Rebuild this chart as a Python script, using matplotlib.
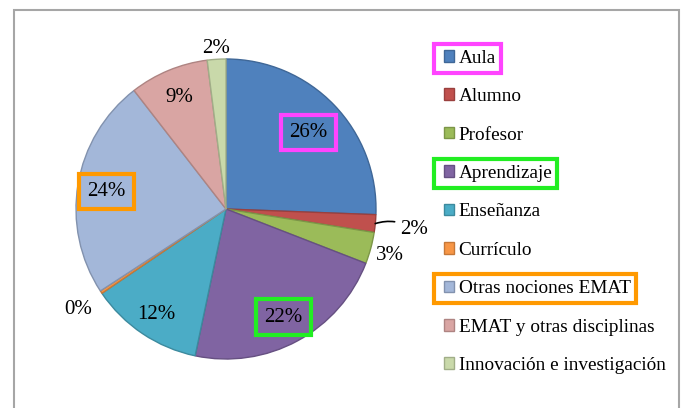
#!/usr/bin/env python3

import matplotlib.pyplot as plt
from matplotlib.patches import Rectangle
from matplotlib.colors import to_rgb
import numpy as np

plt.rcParams['font.family'] = ['Liberation Serif', 'DejaVu Serif']

categories = ['Aula', 'Alumno', 'Profesor', 'Aprendizaje', 'Enseñanza',
              'Currículo', 'Otras nociones EMAT', 'EMAT y otras disciplinas',
              'Innovación e investigación']
shares = [25.6, 1.9, 3.4, 22.4, 12.2, 0.3, 23.7, 8.5, 2.0]
pct_labels = ['26%', '2%', '3%', '22%', '12%', '0%', '24%', '9%', '2%']

colors = ['#4F81BD', '#C0504D', '#9BBB59', '#8064A2', '#4BACC6',
          '#F79646', '#A3B7D9', '#D9A5A3', '#C9D9AA']
# radial distance of each percentage label (pie radius = 1)
label_r = [0.76, 1.26, 1.13, 0.80, 0.83, 1.18, 0.81, 0.82, 1.09]
# highlighted categories -> box colour
highlight = {'Aula': '#FF44FF', 'Aprendizaje': '#22EE22',
             'Otras nociones EMAT': '#FF9900'}

W, H = 686, 408
fig = plt.figure(figsize=(W / 100, H / 100), dpi=100)

# outer chart frame
fig.add_artist(Rectangle((14 / W, -0.05), (679 - 14) / W, (H - 10) / H + 0.05,
                         transform=fig.transFigure, fill=False,
                         ec='#A6A6A6', lw=1.5))

cx, cy, r = 226, H - 209, 150
ax = fig.add_axes([(cx - r) / W, (cy - r) / H, 2 * r / W, 2 * r / H])

def darker(c, f=0.8):
    return tuple(v * f for v in to_rgb(c))

wedges, _ = ax.pie(shares, colors=colors, startangle=90, counterclock=False,
                   radius=1, wedgeprops=dict(linewidth=1.0))
for w, c in zip(wedges, colors):
    w.set_edgecolor(darker(c))
ax.set_xlim(-1, 1)
ax.set_ylim(-1, 1)
ax.set_aspect('equal')
ax.axis('off')

for w, lab, rr, cat in zip(wedges, pct_labels, label_r, categories):
    mid = np.deg2rad((w.theta1 + w.theta2) / 2)
    x, y = rr * np.cos(mid), rr * np.sin(mid)
    if cat == 'Alumno':
        t = ax.annotate(lab, xy=(np.cos(mid), np.sin(mid)), xytext=(x, y),
                        ha='center', va='center_baseline', fontsize=15,
                        arrowprops=dict(arrowstyle='-', lw=1.2, color='black',
                                        connectionstyle='arc3,rad=0.25',
                                        shrinkA=2, shrinkB=0),
                        annotation_clip=False)
    else:
        t = ax.text(x, y, lab, ha='center', va='center_baseline', fontsize=15)
    if cat in highlight:
        t.set_bbox(dict(boxstyle='square,pad=0.4', fc='none',
                        ec=highlight[cat], lw=3))

handles = [Rectangle((0, 0), 1, 1, fc=c, ec=darker(c), lw=1) for c in colors]
leg = fig.legend(handles, categories, loc='upper left',
                 bbox_to_anchor=(434 / W, (H - 40) / H), frameon=False,
                 fontsize=13.9, handlelength=0.55, handleheight=0.55,
                 handletextpad=0.22, labelspacing=1.11, borderpad=0)

fig.canvas.draw()
renderer = fig.canvas.get_renderer()
for txt, hnd, cat in zip(leg.get_texts(), leg.legend_handles, categories):
    if cat not in highlight:
        continue
    bt = txt.get_window_extent(renderer)
    bh = hnd.get_window_extent(renderer)
    x0 = min(bt.x0, bh.x0) - 10
    x1 = bt.x1 + 5
    y0 = bt.y0 - 6
    y1 = bt.y1 + 6
    fig.add_artist(Rectangle((x0 / W, y0 / H), (x1 - x0) / W, (y1 - y0) / H,
                             transform=fig.transFigure, fill=False,
                             ec=highlight[cat], lw=3))

fig.savefig('out.png', dpi=100)
